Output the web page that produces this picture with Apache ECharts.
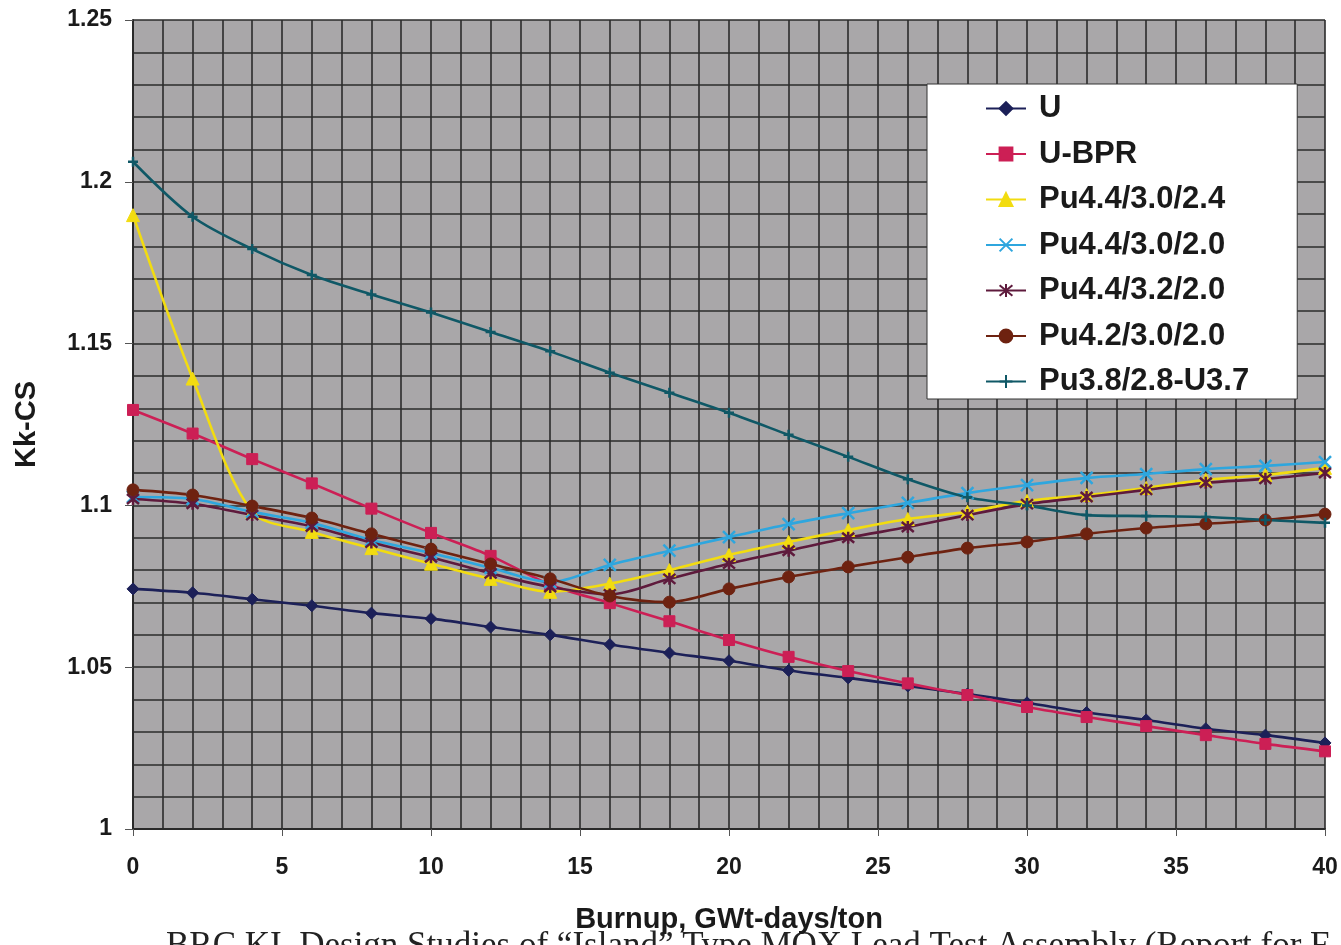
<!DOCTYPE html>
<html>
<head>
<meta charset="utf-8">
<title>Kk-CS vs Burnup</title>
<script src="https://cdn.jsdelivr.net/npm/echarts@6/dist/echarts.min.js"></script>
<style>
  html, body { margin: 0; padding: 0; background: #ffffff; }
  #chart { width: 1341px; height: 945px; }
</style>
</head>
<body>
<div id="chart"></div>
<script>
// Burnup steps, GWt-days/ton
const burnup = [0, 2, 4, 6, 8, 10, 12, 14, 16, 18, 20, 22, 24, 26, 28, 30, 32, 34, 36, 38, 40];

// Kk-CS for each assembly variant
const kU       = [1.0742, 1.0730, 1.0710, 1.0690, 1.0667, 1.0650, 1.0624, 1.0600, 1.0570, 1.0544, 1.0520, 1.0490, 1.0467, 1.0442, 1.0417, 1.0390, 1.0360, 1.0337, 1.0310, 1.0290, 1.0266];
const kUBPR    = [1.1295, 1.1222, 1.1143, 1.1068, 1.0990, 1.0915, 1.0844, 1.0755, 1.0698, 1.0642, 1.0584, 1.0532, 1.0488, 1.0450, 1.0414, 1.0377, 1.0346, 1.0318, 1.0290, 1.0263, 1.0240];
const kPu44_30_24 = [1.1897, 1.1392, 1.0980, 1.0918, 1.0868, 1.0820, 1.0773, 1.0733, 1.0758, 1.0800, 1.0847, 1.0887, 1.0924, 1.0958, 1.0980, 1.1014, 1.1032, 1.1054, 1.1079, 1.1094, 1.1116];
const kPu44_30_20 = [1.1026, 1.1020, 1.0980, 1.0946, 1.0893, 1.0853, 1.0807, 1.0763, 1.0816, 1.0860, 1.0902, 1.0942, 1.0976, 1.1008, 1.1038, 1.1063, 1.1085, 1.1097, 1.1112, 1.1122, 1.1134];
const kPu44_32_20 = [1.1020, 1.1005, 1.0970, 1.0935, 1.0885, 1.0840, 1.0790, 1.0748, 1.0725, 1.0773, 1.0820, 1.0860, 1.0900, 1.0933, 1.0970, 1.1004, 1.1026, 1.1048, 1.1070, 1.1082, 1.1100];
const kPu42_30_20 = [1.1048, 1.1032, 1.0998, 1.0961, 1.0912, 1.0865, 1.0819, 1.0773, 1.0720, 1.0701, 1.0742, 1.0779, 1.0810, 1.0840, 1.0868, 1.0887, 1.0912, 1.0930, 1.0943, 1.0955, 1.0973];
const kPu38_28_U37 = [1.2062, 1.1892, 1.1792, 1.1712, 1.1652, 1.1596, 1.1536, 1.1476, 1.1410, 1.1348, 1.1286, 1.1218, 1.1150, 1.1081, 1.1025, 1.1000, 1.0970, 1.0967, 1.0964, 1.0955, 1.0946];

const seriesNames = ['U', 'U-BPR', 'Pu4.4/3.0/2.4', 'Pu4.4/3.0/2.0', 'Pu4.4/3.2/2.0', 'Pu4.2/3.0/2.0', 'Pu3.8/2.8-U3.7'];

// axis ranges and tick steps
const yMin = 1.0, yMax = 1.25, yStep = 0.05;
const xMin = 0, xMax = 40, xStep = 5;

const FONT = 'Liberation Sans, Arial, sans-serif';

const symX = 'path://M0,0L10,10M10,0L0,10';
const symStar = 'path://M0,0L10,10M10,0L0,10M5,-1L5,11';
const symPlus = 'path://M5,0L5,10M0,5L10,5';

function pairs(vals) {
  return burnup.map((b, i) => [b, vals[i]]);
}

function lineSeries(name, vals, color, symbol, size, opts) {
  const stroke = opts && opts.stroke;
  return {
    name: name,
    type: 'line',
    data: pairs(vals),
    smooth: 0.3,
    symbol: symbol,
    symbolSize: size,
    showAllSymbol: true,
    lineStyle: { color: color, width: 2.6 },
    itemStyle: stroke
      ? { color: 'none', borderColor: color, borderWidth: 2.5 }
      : { color: color, borderColor: color, borderWidth: 1 },
    emphasis: { disabled: true },
    animation: false
  };
}

const chart = echarts.init(document.getElementById('chart'), null, { renderer: 'canvas' });

chart.setOption({
  backgroundColor: '#ffffff',
  animation: false,
  grid: { left: 133, right: 16, top: 20, bottom: 116, show: true, backgroundColor: '#a9a7a9', borderWidth: 0 },
  xAxis: {
    type: 'value',
    min: xMin, max: xMax, interval: xStep,
    name: 'Burnup, GWt-days/ton',
    nameLocation: 'middle',
    nameGap: 76,
    nameTextStyle: { fontFamily: FONT, fontWeight: 'bold', fontSize: 29, color: '#1a1a1a' },
    axisLine: { show: true, lineStyle: { color: '#2a2a2a', width: 2 } },
    axisTick: { show: true, length: 7, lineStyle: { color: '#555', width: 1 } },
    axisLabel: { margin: 27, fontFamily: FONT, fontWeight: 'bold', fontSize: 23, color: '#1a1a1a' },
    splitLine: { show: true, lineStyle: { color: '#2b2b2b', width: 1.6 } },
    minorTick: { show: false, splitNumber: 5 },
    minorSplitLine: { show: true, lineStyle: { color: '#2b2b2b', width: 1.6 } }
  },
  yAxis: {
    type: 'value',
    min: yMin, max: yMax, interval: yStep,
    name: 'Kk-CS',
    nameLocation: 'middle',
    nameRotate: 90,
    nameGap: 92,
    nameTextStyle: { fontFamily: FONT, fontWeight: 'bold', fontSize: 29, color: '#1a1a1a' },
    axisLine: { show: true, lineStyle: { color: '#2a2a2a', width: 2 } },
    axisTick: { show: true, length: 8, lineStyle: { color: '#555', width: 1 } },
    axisLabel: { margin: 21, fontFamily: FONT, fontWeight: 'bold', fontSize: 23, color: '#1a1a1a' },
    splitLine: { show: true, lineStyle: { color: '#2b2b2b', width: 1.6 } },
    minorTick: { show: false, splitNumber: 5 },
    minorSplitLine: { show: true, lineStyle: { color: '#2b2b2b', width: 1.6 } }
  },
  legend: {
    orient: 'vertical',
    left: 927,
    top: 84,
    padding: [9, 48, 2, 58],
    itemWidth: 40,
    itemHeight: 16,
    itemGap: 14.5,
    backgroundColor: '#ffffff',
    borderColor: '#333333',
    borderWidth: 1,
    borderRadius: 0,
    data: seriesNames,
    selectedMode: false,
    textStyle: { fontFamily: FONT, fontWeight: 'bold', fontSize: 31, lineHeight: 29, color: '#1a1a1a', padding: [0, 0, 0, 8] }
  },
  graphic: [{
    type: 'text',
    left: 166,
    top: 929,
    silent: true,
    style: {
      text: 'BRC KI, Design Studies of \u201CIsland\u201D Type MOX Lead Test Assembly (Report for F',
      font: '35px "Liberation Serif", "Times New Roman", serif',
      fill: '#222222'
    }
  }],
  series: [
    lineSeries(seriesNames[0], kU, '#1c2058', 'diamond', 12),
    lineSeries(seriesNames[1], kUBPR, '#cc1f55', 'rect', 11),
    lineSeries(seriesNames[2], kPu44_30_24, '#f2dc10', 'triangle', 13),
    lineSeries(seriesNames[3], kPu44_30_20, '#2ea6de', symX, 12, { stroke: true }),
    lineSeries(seriesNames[4], kPu44_32_20, '#5e1a3c', symStar, 12, { stroke: true }),
    lineSeries(seriesNames[5], kPu42_30_20, '#6e2210', 'circle', 12),
    lineSeries(seriesNames[6], kPu38_28_U37, '#0f5866', symPlus, 10, { stroke: true })
  ]
});
</script>
</body>
</html>
